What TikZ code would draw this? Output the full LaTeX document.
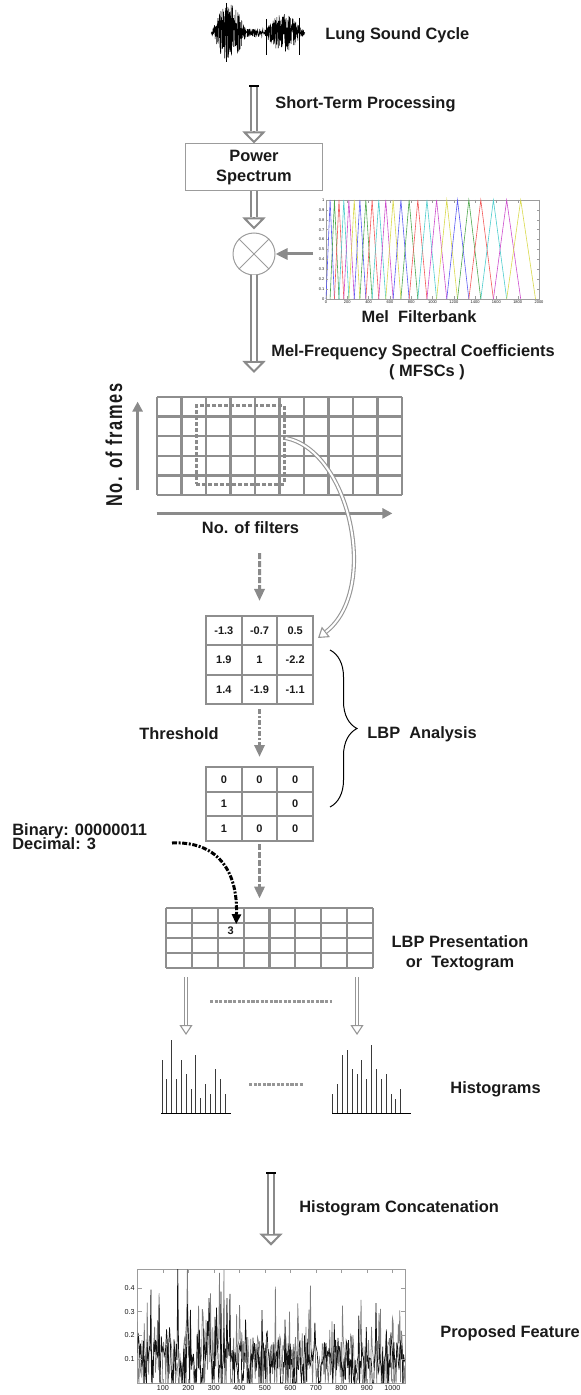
\documentclass[tikz,border=0pt]{standalone}
\usepackage{fontspec}
\setmainfont{Liberation Sans}
\usetikzlibrary{arrows.meta,positioning,calc,decorations.pathreplacing}
\definecolor{arr}{HTML}{8A8A8A}
\definecolor{arrlt}{HTML}{969696}
\definecolor{gridc}{HTML}{8E8E8E}
\definecolor{txt}{HTML}{1A1A1A}
\definecolor{boxc}{HTML}{9C9C9C}
\definecolor{histc}{HTML}{3A3A3A}
\definecolor{sigdark}{HTML}{111111}
\definecolor{siglight}{HTML}{7C7C7C}
\definecolor{fb0}{rgb}{0.35,0.35,0.95}
\definecolor{fb1}{rgb}{0.30,0.65,0.30}
\definecolor{fb2}{rgb}{0.95,0.35,0.35}
\definecolor{fb3}{rgb}{0.30,0.80,0.80}
\definecolor{fb4}{rgb}{0.80,0.30,0.80}
\definecolor{fb5}{rgb}{0.85,0.85,0.30}
\newcommand{\lab}{\fontsize{8.2}{10}\selectfont\bfseries}
\newcommand{\cellfont}{\fontsize{5.5}{6}\selectfont\bfseries}
\newcommand{\tickfont}{\fontsize{3.6}{4}\selectfont}
\newcommand{\tinyfont}{\fontsize{2}{2.2}\selectfont}

\begin{document}
\begin{tikzpicture}[x=0.5pt, y=-0.5pt, font=\lab,
  every node/.append style={text=txt},
  lbl/.style={font=\lab, inner sep=0pt},
  bigtip/.style={draw=arr, line width=1pt, -{Triangle[open, length=6pt, width=11.5pt]}},
  bigshaft/.style={draw=arr, line width=1.2pt, double=white, double distance=1.6pt},
  thintip/.style={draw=arrlt, line width=0.55pt, -{Triangle[open, length=5pt, width=6.5pt]}},
  thinshaft/.style={draw=arrlt, line width=0.55pt, double=white, double distance=1pt},
  solidarrow/.style={draw=arr, line width=1.5pt, -{Triangle[length=5pt, width=5pt]}},
  dasharrow/.style={draw=arr, line width=1.5pt, dash pattern=on 3pt off 1pt, -{Triangle[length=6pt, width=5pt]}},
  dotdasharrow/.style={draw=arr, line width=1.5pt, dash pattern=on 2.5pt off 1pt on 1pt off 1pt, -{Triangle[length=6pt, width=5pt]}},
  blkarrow/.style={draw=black, line width=1.5pt, dash pattern=on 2.5pt off 0.8pt on 1pt off 0.8pt, -{Triangle[length=5pt, width=4.5pt]}},
  gridline/.style={draw=gridc, line width=1.1pt},
  cellA/.style={draw=gridc, line width=1pt, minimum width=17.83pt, minimum height=14.67pt, inner sep=0pt, font=\cellfont},
  cellB/.style={cellA, minimum height=12.33pt},
  sepdots/.style={draw=arrlt, line width=1.5pt, dash pattern=on 1.6pt off 0.7pt},
  capbar/.style={draw=black, line width=1.2pt},
]
\useasboundingbox (0,0) rectangle (581,1395);

% --- lung sound cycle ---
\pgfmathsetseed{11}
\draw[line width=0.25pt] plot[domain=211:247, samples=240] (\x,{33+29*sin(180*(\x-211)/36)*(2*rnd-1)});
\draw[line width=0.25pt] plot[domain=247:263, samples=80] (\x,{33+4*(2*rnd-1)});
\draw[line width=0.25pt] plot[domain=263:305, samples=260] (\x,{33+19*sin(180*(\x-263)/42)*(2*rnd-1)});
\draw[line width=0.3pt] (226,3) -- (226,62) (266,19) -- (266,55) (299,18) -- (299,55);
\node[lbl, anchor=base west] (lungtxt) at (325,40) {Lung Sound Cycle};

% --- short-term processing ---
\coordinate (stp) at (254,86);
\node[lbl, anchor=base west] (sttxt) at (275,109) {Short-Term Processing};
\node[draw=boxc, line width=0.5pt, minimum width=68.5pt, minimum height=23.5pt, inner sep=0pt, align=center, font=\lab] (pspec) at (254,167.5) {Power\\Spectrum};
\draw[bigtip] (stp) -- (pspec);
\draw[bigshaft, shorten >=6pt] (stp) -- (pspec);
\draw[capbar] ([xshift=-2.5pt]stp) -- ([xshift=2.5pt]stp);

% --- multiplier ---
\node[circle, draw=boxc, line width=0.5pt, minimum size=21pt, inner sep=0pt] (mult) at (254,254) {};
\draw[boxc, line width=0.5pt] (mult.north west) -- (mult.south east) (mult.north east) -- (mult.south west);
\draw[bigtip, shorten >=1.5pt] (pspec) -- (mult);
\draw[bigshaft, shorten >=7.5pt] (pspec) -- (mult);

% --- mel filterbank ---
\node[draw=boxc, line width=0.4pt, minimum width=106.5pt, minimum height=49.5pt, inner sep=0pt] (fbank) at (432.5,249.5) {};
\begin{scope}[shift={(326,299)}, xscale=0.1065, yscale=-99]
  \foreach \i in {1,...,24} {
    \pgfmathsetmacro{\fa}{700*(pow(10,(\i-1)*0.023237)-1)}
    \pgfmathsetmacro{\fb}{700*(pow(10,\i*0.023237)-1)}
    \pgfmathsetmacro{\fc}{700*(pow(10,(\i+1)*0.023237)-1)}
    \pgfmathtruncatemacro{\ci}{mod(\i-1,6)}
    \draw[fb\ci, line width=0.3pt] (\fa,0) -- (\fb,1) -- (\fc,0);
  }
  \foreach \v [count=\k] in {0,0.1,0.2,0.3,0.4,0.5,0.6,0.7,0.8,0.9,1} {
    \draw[boxc, line width=0.2pt] (0,\v) -- (18,\v) (2000,\v) -- (1982,\v);
    \node[font=\tinyfont, anchor=east, inner sep=0.6pt] (fy\k) at (0,\v) {\v};
  }
  \foreach \v [count=\k] in {0,200,...,2000} {
    \draw[boxc, line width=0.2pt] (\v,0) -- (\v,0.03) (\v,1) -- (\v,0.97);
    \node[font=\tinyfont, anchor=north, inner sep=0.8pt] (fx\k) at (\v,0) {\v};
  }
\end{scope}
\node[lbl, anchor=base] (fbtxt) at (419,323) {Mel\ \ Filterbank};
\coordinate (fbout) at (313,254);
\draw[solidarrow, -{Triangle[length=6pt, width=5.5pt]}] (fbout) -- (mult);

% --- MFSCs ---
\coordinate (mfscin) at (254,373);
\draw[bigtip] (mult) -- (mfscin);
\draw[bigshaft, shorten >=6pt] (mult) -- (mfscin);
\node[lbl, anchor=base west] (mfsc) at (271,357) {Mel-Frequency Spectral Coefficients};
\node[lbl, anchor=base] (mfscab) at (427,377) {( MFSCs )};

% --- MFSC grid ---
\node[minimum width=122.5pt, minimum height=49pt, inner sep=0pt] (grid) at (279.5,446) {};
\foreach \i in {0,...,10}
  \draw[gridline] ({157+24.5*\i},397) -- ({157+24.5*\i},495);
\foreach \j in {0,...,5}
  \draw[gridline] (157,{397+19.6*\j}) -- (402,{397+19.6*\j});
\node[draw=arr, line width=1.5pt, dash pattern=on 2pt off 1pt, minimum width=44pt, minimum height=39pt, inner sep=0pt] (win) at (240,445) {};
\draw[solidarrow] ([shift={(-9.5pt,2.5pt)}]grid.south west) -- ([shift={(-9.5pt,-2.5pt)}]grid.north west);
\draw[solidarrow] ([yshift=-9pt]grid.south west) -- ([shift={(-5pt,-9pt)}]grid.south east);
\begin{scope}[shift={(114,445)}]
  \node[lbl, transform shape, rotate=90, yscale=1.4] (frames) at (0,0) {\addfontfeatures{LetterSpace=10}No. of frames};
\end{scope}
\node[lbl, anchor=base] (filters) at (250.5,533) {No. of filters};

% --- LBP analysis ---
\foreach \v [count=\k from 0] in {-1.3,-0.7,0.5,1.9,1,-2.2,1.4,-1.9,-1.1} {
  \pgfmathtruncatemacro{\r}{\k/3}
  \pgfmathtruncatemacro{\c}{\k-3*\r}
  \node[cellA] (a-\r-\c) at ({206+35.67*(\c+0.5)},{616+29.33*(\r+0.5)}) {\v};
}
\foreach \v [count=\k from 0] in {0,0,0,1,{},0,1,0,0} {
  \pgfmathtruncatemacro{\r}{\k/3}
  \pgfmathtruncatemacro{\c}{\k-3*\r}
  \node[cellB] (b-\r-\c) at ({206+35.67*(\c+0.5)},{767+24.67*(\r+0.5)}) {\v};
}
\coordinate (d1) at (259.5,553);
\draw[dasharrow, shorten >=7pt] (d1) -- (a-0-1.north);
\draw[dotdasharrow, shorten <=2pt, shorten >=4.5pt] (a-2-1.south) -- (b-0-1.north);
\coordinate (cvend) at (318,638);
\draw[thintip] ([yshift=3.5pt]win.east) .. controls (350,450) and (380,590) .. (cvend);
\draw[thinshaft, shorten >=5pt] ([yshift=3.5pt]win.east) .. controls (350,450) and (380,590) .. (cvend);
\node[lbl, anchor=base] (thr) at (179,739) {Threshold};
\draw[decorate, decoration={brace, amplitude=13.5pt}, line width=0.5pt] (330,650) -- (330,807);
\node[lbl, anchor=base west] (lbptxt) at (367,738) {LBP\ \ Analysis};

% --- textogram ---
\node[minimum width=103.5pt, minimum height=30pt, inner sep=0pt] (tg) at (269.5,938) {};
\foreach \i in {0,...,8}
  \draw[gridline] ({166+25.875*\i},908) -- ({166+25.875*\i},968);
\foreach \j in {0,...,4}
  \draw[gridline] (166,{908+15*\j}) -- (373,{908+15*\j});
\node[font=\cellfont, inner sep=1pt] (three) at (230.7,930.5) {3};
\draw[dasharrow, shorten <=1pt, shorten >=4.5pt] (b-2-1.south) -- (b-2-1.south |- tg.north);
\node[lbl, anchor=base west] (bintxt) at (12,835) {Binary: 00000011};
\node[lbl, anchor=base west] (dectxt) at (12,849) {Decimal: 3};
\coordinate (bin) at (172,843);
\draw[blkarrow] (bin) .. controls (215,841) and (238,868) .. (three.north east);
\node[lbl, align=center] (tgtxt) at (460,953) {LBP Presentation\\or\ \ Textogram};

% --- histograms ---
\coordinate (hl) at (186,1035);
\coordinate (hr) at (357,1035);
\draw[thintip, shorten <=4.5pt] (tg.south -| hl) -- (hl);
\draw[thinshaft, shorten <=4.5pt, shorten >=5pt] (tg.south -| hl) -- (hl);
\draw[thintip, shorten <=4.5pt] (tg.south -| hr) -- (hr);
\draw[thinshaft, shorten <=4.5pt, shorten >=5pt] (tg.south -| hr) -- (hr);
\draw[sepdots] (210,1001) -- (332,1001);
\foreach \h [count=\k from 0] in {53.3,34,73.3,34,53.3,39,24,58.3,15,29,19,44,34,19}
  \draw[histc, line width=0.5pt] ({162+4.85*\k},1113) -- ({162+4.85*\k},{1113-\h});
\draw[black, line width=0.5pt] (161,1113) -- (231,1113);
\foreach \h [count=\k from 0] in {19,29,58.3,63.3,44,39,53.3,34,68.3,44,34,39,19,14.3,24}
  \draw[histc, line width=0.5pt] ({332.7+4.86*\k},1113) -- ({332.7+4.86*\k},{1113-\h});
\draw[black, line width=0.5pt] (332,1113) -- (411,1113);
\draw[sepdots] (249,1084) -- (303,1084);
\node[lbl, anchor=base west] (histtxt) at (450,1093) {Histograms};

% --- concatenation ---
\node[draw=boxc, line width=0.4pt, minimum width=134pt, minimum height=57pt, inner sep=0pt] (feat) at (271,1326) {};
\coordinate (hcat) at (271,1173);
\draw[bigtip, shorten >=11.5pt] (hcat) -- (feat);
\draw[bigshaft, shorten >=17.5pt] (hcat) -- (feat);
\draw[capbar] ([xshift=-2.5pt]hcat) -- ([xshift=2.5pt]hcat);
\node[lbl, anchor=base west] (cattxt) at (299,1212) {Histogram Concatenation};
\begin{scope}[shift={(137.5,1383)}, xscale=0.2548, yscale=-238]
  \clip (0,0) rectangle (1050,0.479);
  \draw[siglight, line width=0.35pt] plot[domain=0:1050, samples=360] (\x,{(rnd>0.3)*(0.03+0.17*rnd)+0.32*pow(rnd,9)});
  \draw[sigdark, line width=0.35pt] plot[domain=0:1050, samples=360] (\x,{(rnd>0.25)*(0.05+0.13*rnd)+0.36*pow(rnd,12)});
\end{scope}
\begin{scope}[shift={(137.5,1383)}, xscale=0.2548, yscale=-238]
  \foreach \v [count=\k] in {100,200,...,1000} {
    \draw[boxc, line width=0.3pt] (\v,0) -- (\v,0.016) (\v,0.479) -- (\v,0.463);
    \node[font=\tickfont, anchor=north, inner sep=1pt] (px\k) at (\v,0) {\v};
  }
  \foreach \v [count=\k] in {0.1,0.2,0.3,0.4} {
    \draw[boxc, line width=0.3pt] (0,\v) -- (16,\v) (1050,\v) -- (1034,\v);
    \node[font=\tickfont, anchor=east, inner sep=1.2pt] (py\k) at (0,\v) {\v};
  }
\end{scope}
\node[lbl, anchor=base west] (feattxt) at (440,1337) {Proposed Feature};
\end{tikzpicture}
\end{document}
